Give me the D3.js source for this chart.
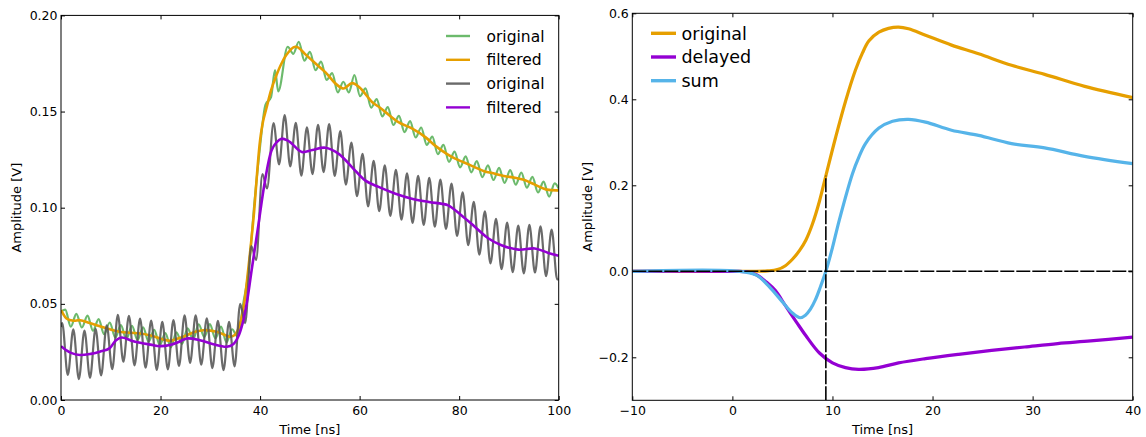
<!DOCTYPE html>
<html>
<head>
<meta charset="utf-8">
<script src="https://cdn.jsdelivr.net/npm/d3@7"></script>
<style>
body { margin: 0; background: #fff; }
text { font-family: "DejaVu Sans", sans-serif; }
</style>
</head>
<body>
<svg id="chart" width="1146" height="437"></svg>
<script>
// left panel: signal with ripple, before and after filtering  [time ns, amplitude V]
var origA = [[0,0.046],[0.85,0.047],[1.97,0.0381],[3.085,0.0448],[4.2,0.0377],[5.32,0.0439],[6.44,0.036],[7.555,0.0421],[8.67,0.0342],[9.79,0.0403],[10.91,0.0325],[12.025,0.0389],[13.14,0.0317],[14.26,0.0385],[15.38,0.0312],[16.495,0.0378],[17.61,0.0303],[18.73,0.0365],[19.85,0.0285],[20.965,0.0348],[22.08,0.0274],[23.2,0.0352],[24.32,0.0292],[25.435,0.0373],[26.55,0.0315],[27.67,0.0394],[28.79,0.0328],[29.905,0.0395],[31.02,0.0321],[32.14,0.0382],[33.26,0.030],[34.375,0.0368],[35.49,0.033],[36.61,0.050],[37.73,0.068],[38.845,0.102],[39.96,0.131],[41.08,0.1535],[42.2,0.1575],[43.0,0.1715],[43.65,0.1605],[45.55,0.1837],[46.67,0.180],[47.785,0.1863],[48.9,0.1765],[50.02,0.181],[51.14,0.1715],[52.255,0.176],[53.37,0.1665],[54.49,0.170],[55.61,0.160],[56.725,0.1655],[57.84,0.160],[58.96,0.169],[60.08,0.158],[61.195,0.162],[62.31,0.152],[63.43,0.1565],[64.55,0.1475],[65.665,0.1523],[66.78,0.143],[67.9,0.1478],[69.02,0.1393],[70.135,0.145],[71.25,0.1365],[72.37,0.1417],[73.49,0.1327],[74.605,0.137],[75.72,0.1278],[76.84,0.1327],[77.96,0.1238],[79.075,0.1292],[80.19,0.121],[81.31,0.1267],[82.43,0.1184],[83.545,0.1242],[84.66,0.1159],[85.78,0.122],[86.9,0.1144],[88.015,0.1207],[89.13,0.1129],[90.25,0.1195],[91.37,0.112],[92.485,0.1183],[93.6,0.1104],[94.72,0.116],[95.84,0.1079],[96.955,0.1136],[98.07,0.1058],[99.19,0.1126],[100,0.110]];

var filtA = [[0,0.0467],[0.5,0.0445],[1.1,0.0424],[2.5,0.0412],[3.8,0.0415],[5.8,0.040],[7.8,0.0384],[9.8,0.0368],[11.8,0.0355],[14,0.035],[15.9,0.0346],[18,0.0336],[19.9,0.032],[21.9,0.0308],[23.5,0.032],[25.3,0.0337],[27,0.0355],[28.6,0.0363],[31.3,0.0355],[34,0.0329],[35,0.034],[36,0.040],[36.8,0.050],[37.5,0.065],[38.2,0.082],[38.8,0.098],[39.4,0.118],[40,0.135],[40.6,0.145],[41.3,0.152],[42.2,0.161],[43.3,0.169],[44.3,0.175],[45.3,0.1795],[46.7,0.1834],[47.5,0.1835],[49,0.180],[50.7,0.176],[53.1,0.1705],[55.4,0.164],[56.8,0.162],[58.5,0.1648],[60,0.1625],[62.5,0.155],[64.1,0.152],[65.2,0.1497],[67.8,0.1445],[70.5,0.1412],[73.2,0.1367],[75.1,0.1324],[77.5,0.128],[79.2,0.1255],[81,0.1235],[83.2,0.121],[85,0.119],[87.2,0.1177],[89,0.1165],[91.2,0.1156],[93,0.1145],[95.2,0.112],[97.6,0.1094],[100,0.109]];

var origB = [[0,0.038],[0.24,0.040],[1.36,0.013],[2.475,0.0367],[3.59,0.0109],[4.71,0.0361],[5.83,0.0115],[6.945,0.037],[8.06,0.0128],[9.18,0.0388],[10.3,0.016],[11.415,0.0443],[12.53,0.0199],[13.65,0.0438],[14.77,0.018],[15.885,0.0423],[17,0.0168],[18.12,0.0413],[19.24,0.0157],[20.355,0.0406],[21.47,0.0159],[22.59,0.0415],[23.71,0.0177],[24.825,0.044],[25.94,0.0193],[27.06,0.044],[28.18,0.0184],[29.295,0.0425],[30.41,0.0166],[31.53,0.0411],[32.65,0.0155],[33.765,0.0406],[34.88,0.0175],[36.0,0.050],[37.0,0.040],[38.235,0.080],[39.2,0.0728],[40.47,0.1175],[41.4,0.1100],[42.705,0.144],[43.82,0.1225],[44.94,0.1482],[46.06,0.1215],[47.175,0.1441],[48.29,0.1167],[49.41,0.1418],[50.53,0.1175],[51.645,0.1431],[52.76,0.1185],[53.88,0.1435],[55,0.1165],[56.115,0.1398],[57.23,0.112],[58.35,0.1339],[59.47,0.106],[60.585,0.128],[61.7,0.1007],[62.82,0.1243],[63.94,0.0982],[65.055,0.122],[66.17,0.0958],[67.29,0.1197],[68.41,0.0938],[69.525,0.1179],[70.64,0.0921],[71.76,0.1165],[72.88,0.091],[73.995,0.1155],[75.11,0.0901],[76.23,0.1146],[77.35,0.089],[78.465,0.1125],[79.58,0.0853],[80.7,0.108],[81.82,0.0805],[82.935,0.1031],[84.05,0.0756],[85.17,0.0981],[86.29,0.071],[87.405,0.0942],[88.52,0.068],[89.64,0.0922],[90.76,0.0665],[91.875,0.0907],[92.99,0.0658],[94.11,0.0911],[95.23,0.0663],[96.345,0.0903],[97.46,0.0644],[98.58,0.0886],[99.7,0.0627],[100,0.063]];

var filtB = [[0,0.028],[1,0.026],[2,0.0245],[3.8,0.0234],[6,0.024],[7.8,0.0251],[9.8,0.027],[11,0.031],[12.2,0.0325],[14,0.031],[15.9,0.0298],[18,0.0288],[19.9,0.028],[21.9,0.0286],[23.5,0.030],[25.3,0.032],[27.9,0.0311],[30.6,0.029],[33.3,0.0277],[34.6,0.029],[35.6,0.0329],[36.5,0.040],[37.3,0.050],[38.3,0.0675],[39.6,0.090],[41,0.1142],[42.3,0.1298],[43.3,0.134],[44.3,0.1359],[45.5,0.135],[46.4,0.1333],[48.4,0.129],[50.5,0.130],[53.1,0.1312],[55.8,0.128],[58.5,0.121],[61.1,0.1142],[63.8,0.1108],[67.2,0.1073],[70.5,0.1047],[73.9,0.103],[76.6,0.102],[77.8,0.1012],[80.5,0.096],[83.2,0.090],[85.9,0.084],[88.5,0.0805],[91.9,0.0782],[95.2,0.0788],[97.9,0.0765],[100,0.075]];

// right panel: constant fraction pulses
var pulseOrig = [[-10,0],[2,0],[3.5,0.001],[4.5,0.004],[5.3,0.013],[6,0.028],[6.7,0.048],[7.35,0.073],[8,0.11],[8.7,0.163],[9.34,0.222],[10.3,0.31],[11.3,0.395],[12.3,0.468],[13,0.508],[13.65,0.536],[14.64,0.556],[15.6,0.565],[16.6,0.568],[17.6,0.564],[19.3,0.549],[21.9,0.526],[24.6,0.506],[27.9,0.479],[31.2,0.458],[35.2,0.430],[40,0.404]];
var pulseDelay = [[-10,0],[0,0],[1.4,-0.001],[2.4,-0.008],[3.4,-0.025],[4.3,-0.045],[5.3,-0.08],[6.4,-0.118],[7.35,-0.150],[8.7,-0.19],[10,-0.213],[11.3,-0.224],[12.6,-0.228],[14.6,-0.224],[16.6,-0.213],[19.3,-0.203],[22.6,-0.193],[25.9,-0.184],[29.2,-0.176],[32.5,-0.168],[35.8,-0.162],[40,-0.153]];
var pulseSum = [[-10,0],[0.7,0],[2.4,-0.009],[3.7,-0.036],[5,-0.071],[6,-0.097],[6.76,-0.108],[7.3,-0.102],[7.8,-0.088],[8.3,-0.066],[8.8,-0.036],[9.34,0],[10,0.055],[10.67,0.118],[12,0.227],[12.65,0.266],[13.3,0.297],[14.64,0.333],[16,0.349],[17.6,0.3535],[19.3,0.347],[21.9,0.328],[24.6,0.316],[27.9,0.297],[31.2,0.287],[35.2,0.2674],[40,0.2504]];
var zeroCross = [9.34, 0.222];   // time of zero crossing, top of marker line

var ticksLX = [0, 20, 40, 60, 80, 100],
    ticksLY = [0, 0.05, 0.10, 0.15, 0.20],
    ticksRX = [-10, 0, 10, 20, 30, 40],
    ticksRY = [-0.2, 0.0, 0.2, 0.4, 0.6];

var legendL = ["original", "filtered", "original", "filtered"],
    legendR = ["original", "delayed", "sum"];

var cGreen = "#5cb35c", cOrange = "#e69f00", cGray = "#555555", cPurple = "#9400d3", cBlue = "#56b4e9";

var svg = d3.select("#chart");

var xL = d3.scaleLinear().domain([0, 100]).range([61, 558.7]),
    yL = d3.scaleLinear().domain([0, 0.2]).range([400, 15.4]),
    xR = d3.scaleLinear().domain([-10, 40]).range([632.3, 1132.7]),
    yR = d3.scaleLinear().domain([-0.3, 0.6]).range([400.3, 13.3]);

function frame(xs, ys, xt, yt, xf, yf, id) {
    var x0 = xs.range()[0], x1 = xs.range()[1],
        y0 = ys.range()[0], y1 = ys.range()[1];
    var style = function(g) {
        g.attr("font-size", 12.5).attr("font-family", "DejaVu Sans");
        g.select(".domain").remove();
        g.selectAll("line").attr("stroke", "#000");
        g.selectAll("text").attr("fill", "#000");
    };
    svg.append("g").attr("transform", "translate(0," + y0 + ")")
        .call(d3.axisBottom(xs).tickValues(xt).tickFormat(xf).tickSizeInner(-4).tickSizeOuter(0).tickPadding(6))
        .call(style);
    svg.append("g").attr("transform", "translate(0," + y1 + ")")
        .call(d3.axisTop(xs).tickValues(xt).tickFormat("").tickSizeInner(-4).tickSizeOuter(0))
        .call(style);
    svg.append("g").attr("transform", "translate(" + x0 + ",0)")
        .call(d3.axisLeft(ys).tickValues(yt).tickFormat(yf).tickSizeInner(-4).tickSizeOuter(0).tickPadding(3.5))
        .call(style);
    svg.append("g").attr("transform", "translate(" + x1 + ",0)")
        .call(d3.axisRight(ys).tickValues(yt).tickFormat("").tickSizeInner(-4).tickSizeOuter(0))
        .call(style);
    svg.append("clipPath").attr("id", id).append("rect")
        .attr("x", x0).attr("y", y1).attr("width", x1 - x0).attr("height", y0 - y1);
    return svg.append("g").attr("clip-path", "url(#" + id + ")");
}

function border(xs, ys) {
    var x0 = xs.range()[0], x1 = xs.range()[1],
        y0 = ys.range()[0], y1 = ys.range()[1];
    svg.append("rect").attr("x", x0).attr("y", y1)
        .attr("width", x1 - x0).attr("height", y0 - y1)
        .attr("fill", "none").attr("stroke", "#000").attr("stroke-width", 1);
}

function labels(xs, ys, cx) {
    var x0 = xs.range()[0], x1 = xs.range()[1],
        y0 = ys.range()[0], y1 = ys.range()[1];
    svg.append("text").attr("x", (x0 + x1) / 2).attr("y", 434)
        .attr("text-anchor", "middle").attr("font-size", 13).text("Time [ns]");
    svg.append("text").attr("transform", "translate(" + cx + "," + ((y0 + y1) / 2) + ") rotate(-90)")
        .attr("text-anchor", "middle").attr("font-size", 13).text("Amplitude [V]");
}

// ---- left panel
var gL = frame(xL, yL, ticksLX, ticksLY, d3.format(".0f"), d3.format(".2f"), "clipL");

var wave = d3.line().x(function(d) { return xL(d[0]); }).y(function(d) { return yL(d[1]); }).curve(d3.curveMonotoneX);
var smoothL = d3.line().x(function(d) { return xL(d[0]); }).y(function(d) { return yL(d[1]); }).curve(d3.curveCatmullRom);

gL.append("path").datum(origA).attr("d", wave).attr("fill", "none")
    .attr("stroke", cGreen).attr("stroke-opacity", 0.9).attr("stroke-width", 2.2);
gL.append("path").datum(filtA).attr("d", smoothL).attr("fill", "none")
    .attr("stroke", cOrange).attr("stroke-width", 2.6);
gL.append("path").datum(origB).attr("d", wave).attr("fill", "none")
    .attr("stroke", cGray).attr("stroke-opacity", 0.88).attr("stroke-width", 2.2);
gL.append("path").datum(filtB).attr("d", smoothL).attr("fill", "none")
    .attr("stroke", cPurple).attr("stroke-width", 2.6);

border(xL, yL);
labels(xL, yL, 21);

var legL = svg.append("g");
var colL = [cGreen, cOrange, cGray, cPurple];
legendL.forEach(function(name, i) {
    var y = 36 + i * 23.8;
    legL.append("line").attr("x1", 446).attr("x2", 470).attr("y1", y).attr("y2", y)
        .attr("stroke", colL[i]).attr("stroke-width", 2.4)
        .attr("stroke-opacity", i == 0 ? 0.9 : (i == 2 ? 0.88 : 1));
    legL.append("text").attr("x", 486.5).attr("y", y + 5.5).attr("font-size", 15.5).text(name);
});

// ---- right panel
var gR = frame(xR, yR, ticksRX, ticksRY, d3.format("d"), d3.format(".1f"), "clipR");

var smoothR = d3.line().x(function(d) { return xR(d[0]); }).y(function(d) { return yR(d[1]); }).curve(d3.curveCatmullRom);

gR.append("path").datum(pulseOrig).attr("d", smoothR).attr("fill", "none")
    .attr("stroke", cOrange).attr("stroke-width", 3.2);
gR.append("path").datum(pulseDelay).attr("d", smoothR).attr("fill", "none")
    .attr("stroke", cPurple).attr("stroke-width", 3.2);
gR.append("path").datum(pulseSum).attr("d", smoothR).attr("fill", "none")
    .attr("stroke", cBlue).attr("stroke-width", 3.2);

gR.append("line").attr("x1", xR(-10)).attr("x2", xR(40)).attr("y1", yR(0)).attr("y2", yR(0))
    .attr("stroke", "#000").attr("stroke-width", 1.6).attr("stroke-dasharray", "14,2");
gR.append("line").attr("x1", xR(zeroCross[0])).attr("x2", xR(zeroCross[0]))
    .attr("y1", yR(-0.3)).attr("y2", yR(zeroCross[1]))
    .attr("stroke", "#000").attr("stroke-width", 1.6).attr("stroke-dasharray", "14,2");

border(xR, yR);
labels(xR, yR, 592);

var legR = svg.append("g");
var colR = [cOrange, cPurple, cBlue];
legendR.forEach(function(name, i) {
    var y = 33.3 + i * 23.7;
    legR.append("line").attr("x1", 651).attr("x2", 676).attr("y1", y).attr("y2", y)
        .attr("stroke", colR[i]).attr("stroke-width", 3.4);
    legR.append("text").attr("x", 681.5).attr("y", y + 6.3).attr("font-size", 17.5).text(name);
});
</script>
</body>
</html>
